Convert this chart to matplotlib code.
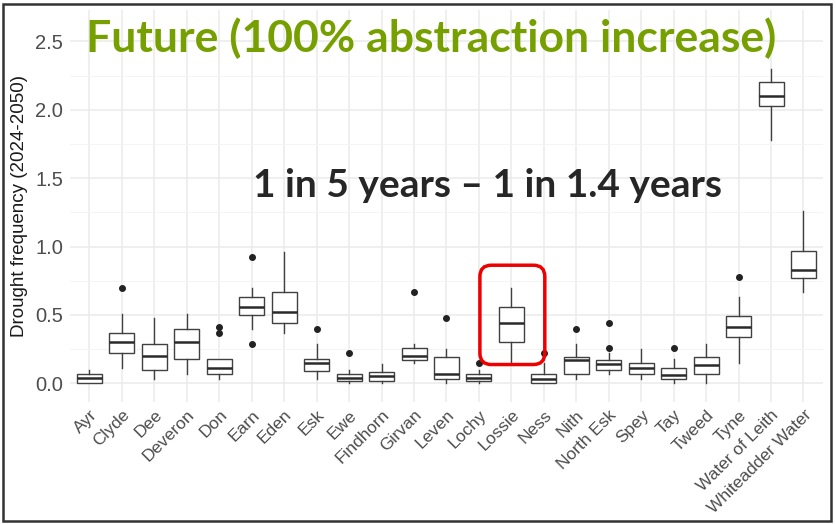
#!/usr/bin/env python3
"""Drought frequency boxplots per catchment, future scenario with 100% abstraction increase."""

import matplotlib
matplotlib.use("Agg")
import matplotlib.pyplot as plt
from matplotlib.patches import FancyBboxPatch, Rectangle


CATCHMENTS = ["Ayr", "Clyde", "Dee", "Deveron", "Don", "Earn", "Eden", "Esk", "Ewe",
              "Findhorn", "Girvan", "Leven", "Lochy", "Lossie", "Ness", "Nith",
              "North Esk", "Spey", "Tay", "Tweed", "Tyne", "Water of Leith",
              "Whiteadder Water"]
WHISKER_LO = [0.00, 0.11, 0.03, 0.07, 0.03, 0.40, 0.37, 0.03, 0.00, 0.00, 0.15, 0.00,
              0.00, 0.15, 0.00, 0.03, 0.07, 0.03, 0.00, 0.00, 0.15, 1.78, 0.67]
Q1 = [0.00, 0.22, 0.10, 0.18, 0.07, 0.50, 0.44, 0.09, 0.02, 0.02, 0.17, 0.03,
      0.02, 0.30, 0.00, 0.07, 0.10, 0.07, 0.03, 0.07, 0.34, 2.03, 0.77]
MEDIAN = [0.04, 0.30, 0.20, 0.30, 0.11, 0.56, 0.52, 0.15, 0.04, 0.05, 0.20, 0.07,
          0.04, 0.44, 0.03, 0.17, 0.14, 0.11, 0.06, 0.13, 0.41, 2.10, 0.83]
Q3 = [0.07, 0.37, 0.29, 0.40, 0.18, 0.63, 0.67, 0.18, 0.07, 0.08, 0.26, 0.19,
      0.07, 0.56, 0.07, 0.19, 0.17, 0.15, 0.11, 0.19, 0.49, 2.20, 0.97]
WHISKER_HI = [0.10, 0.51, 0.48, 0.51, 0.18, 0.70, 0.96, 0.29, 0.10, 0.14, 0.29, 0.25,
              0.10, 0.70, 0.15, 0.29, 0.22, 0.25, 0.18, 0.29, 0.63, 2.30, 1.26]
OUTLIERS = [[], [0.70], [], [], [0.37, 0.41], [0.29, 0.92], [], [0.40], [0.22], [],
            [0.67], [0.48], [0.15], [], [0.22], [0.40], [0.26, 0.44], [], [0.26], [],
            [0.78], [], []]

TITLE = "Future (100% abstraction increase)"
NOTE = "1 in 5 years \u2013 1 in 1.4 years"
HIGHLIGHT = "Lossie"


def main():
    plt.rcParams.update({"font.family": "Liberation Sans"})
    fig = plt.figure(figsize=(8.36, 5.24), dpi=100)
    ax = fig.add_axes([0.0837, 0.2334, 0.9007, 0.7476])

    stats = []
    for i, name in enumerate(CATCHMENTS):
        stats.append({"label": name, "whislo": WHISKER_LO[i], "q1": Q1[i], "med": MEDIAN[i],
                      "q3": Q3[i], "whishi": WHISKER_HI[i], "fliers": OUTLIERS[i]})
    pos = list(range(len(CATCHMENTS)))
    line = "#404040"
    ax.bxp(stats, positions=pos, widths=0.77, patch_artist=True, showcaps=False,
           boxprops=dict(facecolor="white", edgecolor=line, linewidth=1.0),
           medianprops=dict(color="#2a2a2a", linewidth=1.8),
           whiskerprops=dict(color=line, linewidth=1.0),
           flierprops=dict(marker="o", markersize=4, markerfacecolor="#222222",
                           markeredgecolor="#222222"),
           zorder=3)

    ax.set_xlim(-0.6, len(CATCHMENTS) - 0.4)
    ax.set_ylim(-0.135, 2.73)
    ax.set_yticks([0.0, 0.5, 1.0, 1.5, 2.0, 2.5])
    ax.set_yticks([0.25, 0.75, 1.25, 1.75, 2.25], minor=True)
    ax.set_xticks(pos)
    ax.set_xticklabels(CATCHMENTS, rotation=45, ha="right", rotation_mode="anchor")
    ax.grid(which="major", color="#ebebeb", linewidth=1.1, zorder=0)
    ax.grid(which="minor", axis="y", color="#f3f3f3", linewidth=0.6, zorder=0)
    ax.set_axisbelow(True)
    for s in ax.spines.values():
        s.set_visible(False)
    ax.tick_params(axis="both", which="both", length=0, colors="#4d4d4d")
    ax.tick_params(axis="y", labelsize=14.5, pad=5)
    ax.tick_params(axis="x", labelsize=12.5, pad=4)
    ax.set_ylabel("Drought frequency (2024-2050)", fontsize=13.5, color="#1a1a1a", labelpad=5)

    ax.text(0.48, 0.928, TITLE, transform=ax.transAxes, ha="center", va="center",
            fontsize=32, fontweight="bold", color="#76a000", family="Lato")
    ax.text(0.554, 0.551, NOTE, transform=ax.transAxes, ha="center", va="center",
            fontsize=28, fontweight="bold", color="#262626", family="Lato")

    # red rounded frame around the highlighted catchment
    k = CATCHMENTS.index(HIGHLIGHT)
    frame = FancyBboxPatch((k - 0.62, 0.22), 1.3, 0.56,
                           boxstyle="round,pad=0.35", mutation_aspect=0.2375,
                           facecolor="none", edgecolor="#ee0000", linewidth=2.5, zorder=5)
    ax.add_patch(frame)

    fig.patches.append(Rectangle((0.004, 0.006), 0.99, 0.987, transform=fig.transFigure,
                                 facecolor="none", edgecolor="#333333", linewidth=1.8))
    fig.savefig("out.png", dpi=100)
    plt.close(fig)


if __name__ == "__main__":
    main()
